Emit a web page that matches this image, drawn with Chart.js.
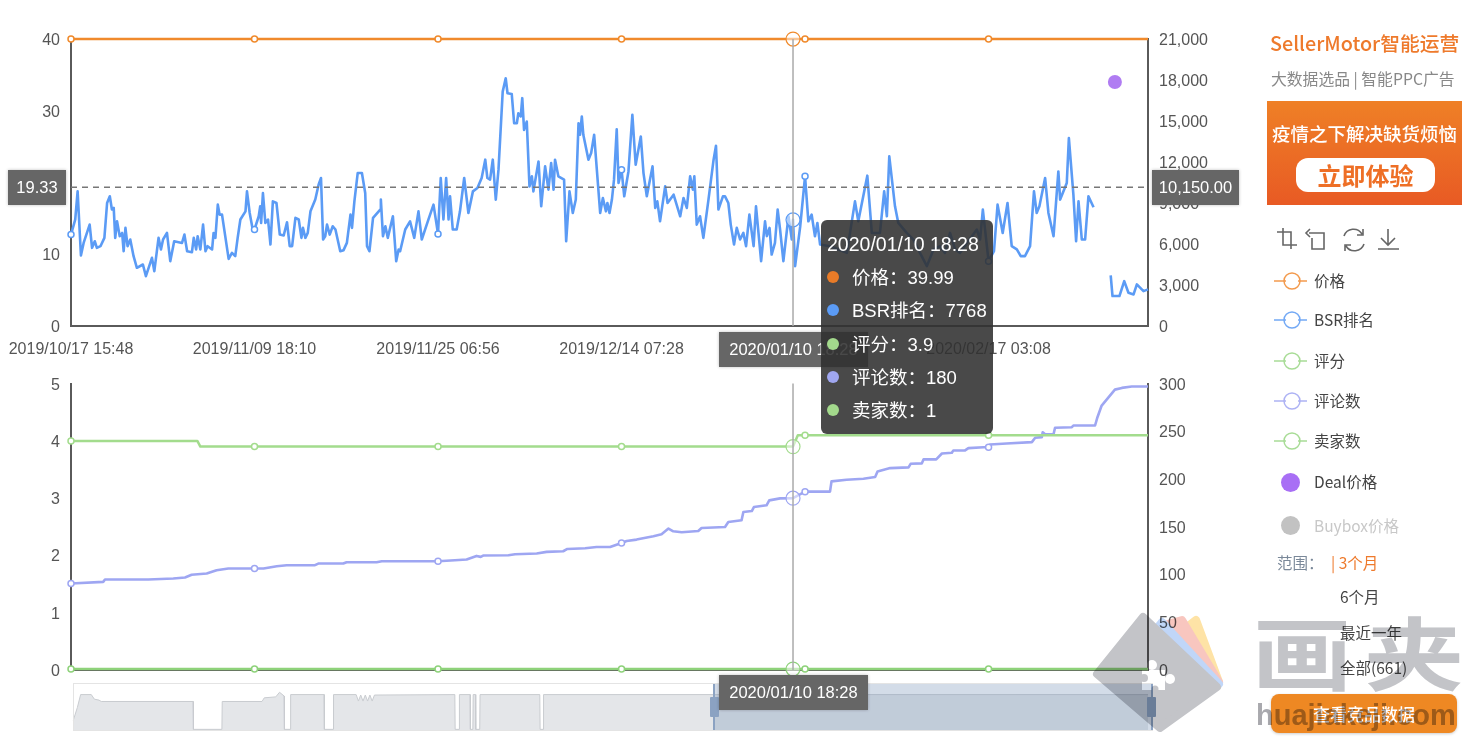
<!DOCTYPE html>
<html lang="zh">
<head>
<meta charset="utf-8">
<title>SellerMotor chart</title>
<script src="https://cdn.jsdelivr.net/npm/chart.js@4"></script>
<style>
  html, body { margin: 0; padding: 0; background: #fff; }
  #page { position: relative; width: 1470px; height: 742px; overflow: hidden; background: #fff; filter: blur(0.45px); font-family: "Liberation Sans", "Noto Sans CJK SC", sans-serif; }
  canvas { position: absolute; left: 0; }
  .abs { position: absolute; white-space: nowrap; }
  .ptr { position: absolute; background: #666; color: #fff; font-size: 16.5px; line-height: 35px; height: 35px; text-align: center; box-shadow: 0 0 3px rgba(0,0,0,.25); }
  #tip { position: absolute; left: 821px; top: 220px; width: 172px; height: 214px; border-radius: 6px; background: rgba(48,48,48,.88); color: #fff; font-size: 18.5px; font-family: "Liberation Sans", "Noto Sans CJK SC", sans-serif; }
  #tip .t { position: absolute; left: 6px; top: 13px; white-space: nowrap; font-size: 19.5px; }
  #tip .r { position: absolute; left: 31px; white-space: nowrap; }
  #tip i { position: absolute; left: 6px; width: 12px; height: 12px; border-radius: 50%; }
  #side, #side div { font-family: "Noto Sans CJK SC", "Liberation Sans", sans-serif; }
  .lg { position: absolute; left: 1314px; font-size: 15.5px; color: #444; line-height: 20px; white-space: nowrap; }
  .rg { position: absolute; font-size: 15.5px; color: #444; line-height: 20px; white-space: nowrap; }
  #mark { position: absolute; left: 0; top: 0; mix-blend-mode: multiply; pointer-events: none; }
</style>
</head>
<body>
<div id="page">
  <canvas id="topChart" width="1470" height="370" style="top:0"></canvas>
  <canvas id="bottomChart" width="1470" height="331" style="top:363px"></canvas>
  <canvas id="miniChart" width="1470" height="55" style="top:680px"></canvas>

  <!-- data zoom selection -->
  <div class="abs" style="left:73px;top:683px;width:1078px;height:46px;border:1px solid #e4e4e4"></div>
  <div class="abs" style="left:714px;top:684px;width:438px;height:46px;background:rgba(130,155,190,.35)"></div>
  <div class="abs" style="left:713px;top:684px;width:2px;height:46px;background:#8ba2c2"></div>
  <div class="abs" style="left:1151px;top:684px;width:2px;height:46px;background:#8ba2c2"></div>
  <div class="abs" style="left:710px;top:697px;width:9px;height:20px;background:#8ba2c2;border-radius:1px"></div>
  <div class="abs" style="left:1147px;top:697px;width:9px;height:20px;background:#8ba2c2;border-radius:1px"></div>

  <!-- axis pointer labels -->
  <div class="ptr" style="left:8px;top:170px;width:58px">19.33</div>
  <div class="ptr" style="left:1152px;top:170px;width:87px">10,150.00</div>
  <div class="ptr" style="left:719px;top:332px;width:149px">2020/01/10 18:28</div>
  <div class="ptr" style="left:719px;top:675px;width:149px">2020/01/10 18:28</div>

  <div id="tip">
    <div class="t">2020/01/10 18:28</div>
    <i style="top:51px;background:#e87b28"></i><div class="r" style="top:43px">价格：39.99</div>
    <i style="top:84px;background:#5b9bf5"></i><div class="r" style="top:76px">BSR排名：7768</div>
    <i style="top:118px;background:#a3d98c"></i><div class="r" style="top:110px">评分：3.9</div>
    <i style="top:151px;background:#a0a7f0"></i><div class="r" style="top:143px">评论数：180</div>
    <i style="top:184px;background:#a3d98c"></i><div class="r" style="top:176px">卖家数：1</div>
  </div>

  <div id="side">
    <div class="abs" style="left:1270px;top:29px;font-size:19.8px;font-weight:500;color:#ee7a2c;line-height:28px">SellerMotor智能运营</div>
    <div class="abs" style="left:1271px;top:67px;font-size:15.8px;color:#888;line-height:24px">大数据选品 | 智能PPC广告</div>
    <div class="abs" style="left:1267px;top:101px;width:195px;height:104px;background:linear-gradient(#ef8026,#e85a24)"></div>
    <div class="abs" style="left:1267px;top:119px;width:195px;text-align:center;font-size:18.5px;color:#fff;font-weight:500;line-height:28px">疫情之下解决缺货烦恼</div>
    <div class="abs" style="left:1296px;top:158px;width:139px;height:34px;border-radius:12px;background:#fff;text-align:center;font-size:24px;font-weight:700;color:#ee6f26;line-height:34px">立即体验</div>

    <svg class="abs" style="left:1274px;top:226px" width="130" height="28" fill="none" stroke="#666" stroke-width="1.6">
      <path d="M3 6h14v17M9 2v17h14M9 6"/>
      <path d="M38 7h-3M36 3l-4 4 4 4M38 7h12v16H38V12"/>
      <path d="M70 10a10 10 0 0 1 18-2M90 18a10 10 0 0 1-18 2M89 3v6h-6M71 25v-6h6"/>
      <path d="M114 3v15M107 12l7 7 7-7M104 23h21"/>
    </svg>
    <svg class="abs" style="left:1270px;top:268px" width="44" height="190" fill="none" stroke-width="1.5">
      <g stroke="#f39a4d"><path d="M4 13h12M28 13h9"/><circle cx="22" cy="13" r="8"/></g>
      <g stroke="#73a9f5"><path d="M4 52h12M28 52h9"/><circle cx="22" cy="52" r="8"/></g>
      <g stroke="#a8dc96"><path d="M4 93h12M28 93h9"/><circle cx="22" cy="93" r="8"/></g>
      <g stroke="#adb2f4"><path d="M4 133h12M28 133h9"/><circle cx="22" cy="133" r="8"/></g>
      <g stroke="#a8dc96"><path d="M4 173h12M28 173h9"/><circle cx="22" cy="173" r="8"/></g>
    </svg>
    <div class="lg" style="top:270px">价格</div>
    <div class="lg" style="top:309px">BSR排名</div>
    <div class="lg" style="top:350px">评分</div>
    <div class="lg" style="top:390px">评论数</div>
    <div class="lg" style="top:430px">卖家数</div>
    <div class="abs" style="left:1281px;top:473px;width:19px;height:19px;border-radius:50%;background:#a86ff5"></div>
    <div class="lg" style="top:471px">Deal价格</div>
    <div class="abs" style="left:1281px;top:516px;width:19px;height:19px;border-radius:50%;background:#c2c2c2"></div>
    <div class="lg" style="top:515px;color:#c8c8c8">Buybox价格</div>
    <div class="rg" style="left:1277px;top:552px;color:#7a8899">范围：</div>
    <div class="rg" style="left:1331px;top:552px;color:#ee7a2c">| 3个月</div>
    <div class="rg" style="left:1340px;top:586px">6个月</div>
    <div class="rg" style="left:1340px;top:622px">最近一年</div>
    <div class="rg" style="left:1340px;top:657px">全部(661)</div>
    <div class="abs" style="left:1271px;top:694px;width:186px;height:39px;border-radius:8px;background:#ee8823;text-align:center;color:#fff;font-size:17px;font-weight:500;line-height:39px;box-shadow:0 1px 3px rgba(0,0,0,.2)">查看竞品数据</div>
  </div>

  <!-- watermark -->
  <svg id="mark" width="1470" height="742">
    <g stroke-linejoin="round" stroke-width="8">
      <path d="M1196 620 1219 682 1170 640Z" fill="#fee3a6" stroke="#fee3a6"/>
      <path d="M1182 620 1219 682 1160 626Z" fill="#f8c6bf" stroke="#f8c6bf"/>
      <path d="M1162 622 1219 684 1154 632Z" fill="#c0d6f8" stroke="#c0d6f8"/>
      <path d="M1143 617 1097 674 1160 728 1217 687Z" fill="#c3c4c8" stroke="#c3c4c8"/>
    </g>
    <g fill="#fff">
      <rect x="1142" y="670" width="23" height="20"/>
      <circle cx="1152" cy="665" r="5"/>
      <circle cx="1170" cy="679" r="5"/>
    </g>
    <circle cx="1144" cy="678" r="4" fill="#c3c4c8"/>
    <circle cx="1155" cy="689" r="3.5" fill="#c3c4c8"/>
    <text transform="translate(1252 684) scale(1 .8)" font-family="Noto Sans CJK SC" font-weight="700" font-size="100" letter-spacing="12" fill="#c3c4c8">画夹</text>
    <text x="1256" y="725" font-family="Liberation Sans" font-weight="700" font-size="29" fill="#a9a9ae">huajiakeji.com</text>
  </svg>
</div>

<script>
// axis ticks
const xTickSlots = [0, 61, 122, 183, 305];
const xTickLabels = ['2019/10/17 15:48', '2019/11/09 18:10', '2019/11/25 06:56', '2019/12/14 07:28', '2020/02/17 03:08'];
const markerSlots = [0, 61, 122, 183, 244, 305];
const hoverSlot = 240;
const averagePrice = 19.33;

// price stays flat at the top of the left axis
const priceSlots = [0, 61, 122, 183, 240, 244, 305, 358];
const priceValues = [39.99, 39.99, 39.99, 39.99, 39.99, 39.99, 39.99, 39.99];

// BSR rank, position along the x axis and value
const bsrSlots = [
  0, 1.4, 2.2, 3.3, 4.2, 5.1, 6.2, 7, 7.9, 8.6, 9.8, 11.1, 12, 12.9, 13.6, 14.2, 14.7, 15.3, 16.2, 17,
  17.5, 18.1, 18.8, 19.7, 20.8, 21.9, 23.9, 24.9, 26.9, 27.7, 29.1, 29.9, 30.6, 31.9, 33, 34.3, 36.9, 37.7, 38.6, 40.2,
  40.8, 41.6, 42.1, 43, 43.9, 44.7, 45.4, 46.9, 47.4, 48, 48.8, 49.4, 50.2, 52.4, 53.5, 54.6, 55.4, 56.3, 58, 58.5,
  59.4, 60.4, 61, 62.4, 62.9, 63.2, 63.8, 64.6, 65.5, 66.3, 67.1, 68.3, 69.4, 70.7, 71.8, 72.7, 73.5, 74.6, 75.7, 76.6,
  77.1, 77.9, 78.7, 79.6, 81.2, 82.3, 83.1, 83.8, 84.5, 85.1, 86, 87, 87.9, 89.5, 90.6, 91.7, 92.9, 93.4, 94.2, 95.3,
  96.7, 97.8, 98.4, 99.2, 100.4, 102.8, 103, 103.7, 104.5, 105.3, 107, 108.1, 108.9, 109.4, 111.1, 112.7, 114.1, 115.5, 116.6, 118.8,
  120.5, 122, 122.9, 123.8, 124.7, 125.5, 126, 126.9, 128.2, 129.3, 130.7, 132.1, 133.6, 135.1, 136.5, 137.7, 138.4, 139.3, 140.2, 141.2,
  142.1, 143.5, 144.5, 145.1, 146.5, 147.3, 148.2, 148.7, 149.5, 150, 150.6, 151.5, 152.4, 153.2, 153.7, 155.4, 156.3, 157.6, 158.7, 159.6,
  160.4, 160.9, 162, 163.9, 164.6, 165.7, 166.8, 167.8, 168.7, 169.2, 169.8, 170.3, 172, 172.9, 173.9, 175.9, 176.8, 177.8, 178.3, 179,
  179.8, 180.5, 181.4, 182, 183, 183.9, 185.3, 186.6, 187.7, 189.4, 190.3, 191.4, 193.3, 194.2, 194.9, 195.8, 197.5, 198.3, 200.3, 202.5,
  203.6, 204.7, 205.8, 206.7, 207.2, 208, 209.1, 210.2, 211.9, 213.6, 214.4, 215.2, 216.7, 217.4, 218.5, 219.3, 220.4, 221.3, 222.4, 223.5,
  224.4, 225.5, 226.9, 227.7, 229.4, 230.7, 231.3, 232.2, 232.9, 234, 234.9, 235.7, 236.8, 238.5, 239.6, 240, 240.7, 242.4, 244, 245.1,
  246.2, 247.3, 248.1, 249, 252.3, 255.1, 257.9, 260.6, 261.7, 264.7, 266.2, 268.9, 270.3, 271.2, 272, 273.9, 275, 277.8, 280, 282.2,
  284.5, 286.7, 288.9, 290.5, 292.2, 293.9, 295.5, 297.8, 301.1, 302.2, 303.1, 305, 306.8, 308, 309.7, 311.3, 312.7, 314.4, 315.7, 317.1,
  318.8, 320.1, 321, 321.9, 323.8, 324.9, 326.6, 328.2, 328.8, 331, 331.7, 333.2, 334.1, 334.9, 336, 337.1, 338.2, 339.9, 342.7, 345.6,
  346.2, 348.5, 350.1, 351.5, 353.2, 354.3, 356.5, 358
];
const bsrValues = [
  6690, 7790, 9850, 5160, 6080, 6690, 7420, 5720, 6200, 5720, 5840, 6450, 9000, 9490, 8520, 8640, 6450, 7660, 6570, 6810,
  5470, 7180, 5840, 6330, 5110, 4260, 4500, 3650, 4990, 4010, 6450, 5600, 6330, 6810, 4740, 6200, 6080, 6690, 5470, 5400,
  6450, 5600, 6570, 5600, 7420, 5470, 5840, 5600, 6810, 6450, 8880, 8150, 8150, 4910, 5350, 5110, 6450, 7790, 8390, 9850,
  8270, 7060, 7060, 8030, 8760, 7540, 9730, 7540, 7790, 5960, 9120, 9000, 6690, 6620, 7590, 5840, 5840, 7910, 7790, 6450,
  7180, 6450, 6810, 8390, 9250, 10340, 10830, 6330, 6570, 7420, 6690, 7300, 7060, 5470, 5550, 6080, 8150, 7180, 9120, 11190,
  11190, 9730, 5840, 5470, 7910, 8520, 9250, 6570, 7300, 6450, 8030, 4740, 5600, 5470, 7060, 7660, 6450, 8390, 6330, 7790,
  8880, 6740, 10830, 7790, 10830, 7790, 9490, 7060, 7060, 8390, 10830, 8270, 9850, 10100, 10830, 12170, 10830, 10710, 12170, 9250,
  11440, 17150, 18130, 17030, 16980, 14840, 14840, 15570, 15330, 16670, 14350, 14960, 10220, 10950, 9850, 12040, 8760, 11680, 9980, 11920,
  9980, 12170, 10950, 10710, 6200, 9850, 8270, 9250, 14840, 13990, 15330, 13990, 12170, 12650, 13990, 8270, 9370, 8390, 9000, 8270,
  9250, 10710, 14400, 10460, 11440, 9490, 11310, 15450, 11800, 13870, 11190, 9490, 11680, 8640, 9120, 7660, 10220, 9000, 9610, 8030,
  9370, 8640, 10950, 9980, 10950, 7420, 8030, 6450, 9250, 12170, 13190, 8520, 9490, 9490, 9000, 7420, 5960, 7180, 6330, 6810,
  5840, 8150, 5840, 8760, 4740, 7660, 6570, 7180, 5230, 6080, 8520, 7060, 4740, 8030, 6330, 7768, 4380, 7300, 10950, 7660,
  8150, 6570, 7540, 5960, 5840, 5600, 5350, 9120, 7660, 11000, 6810, 6810, 9850, 8030, 12410, 8760, 7540, 6810, 6330, 5350,
  4380, 5600, 5840, 5350, 6810, 5600, 5350, 6080, 7060, 6330, 8520, 4740, 5470, 8880, 6810, 9000, 5840, 5600, 5110, 5110,
  5840, 9850, 8270, 8760, 10830, 8270, 6570, 11310, 9250, 10460, 13750, 9610, 6200, 9120, 6330, 6330, 9490, 8690, null, 3700,
  2190, 2190, 3280, 2430, 2310, 3040, 2550, 2680
];

// deal price is a single point
const dealSlots = [347];
const dealValues = [34];

// rating, left axis of the lower chart
const ratingSlots = [0, 42, 43, 61, 122, 183, 240, 241.6, 244, 305, 358];
const ratingValues = [4, 4, 3.9, 3.9, 3.9, 3.9, 3.9, 4.1, 4.1, 4.1, 4.1];

// review count, right axis of the lower chart
const reviewSlots = [
  0, 10.7, 11.3, 25.7, 34, 37.9, 40.1, 45.1, 48.4, 52.3, 61, 64, 68.4, 71.7, 81.1, 82.2, 90.5, 91.6, 101.6, 103.3,
  122, 127.6, 131.5, 134.8, 136.2, 137, 145.4, 147.6, 154.8, 158.1, 163.6, 165, 170.9, 174.7, 179.2, 183, 184.7, 188, 193.6, 196.3,
  198.6, 200.2, 203, 208.5, 209.6, 217.4, 218.5, 222.9, 223.5, 226.3, 227, 231.2, 232.1, 235.7, 240, 244, 252.3, 252.8, 257.8, 263.4,
  267.3, 268.1, 272.3, 278.4, 279.1, 282.8, 283.4, 287.6, 289.5, 292.8, 293.3, 297.2, 298.3, 303.3, 305, 305.5, 311, 319.4, 320.5, 322.7,
  323, 323.8, 326.6, 327.1, 332.7, 333.2, 340.4, 341.2, 342.6, 343.7, 347, 349.3, 352.6, 358
];
const reviewValues = [
  90.6, 92.3, 94.8, 94.8, 95.8, 96.9, 99.7, 101, 104.5, 106.3, 106.3, 106.3, 108.7, 109.8, 109.8, 111.5, 111.5, 112.9, 112.9, 113.9,
  113.9, 115, 115.7, 119.5, 118.5, 119.9, 120.2, 121.3, 122, 123.7, 124.4, 126.8, 127.5, 128.9, 128.9, 133.1, 135.2, 136.6, 140.1, 142.2,
  148.1, 145.3, 144.3, 145.6, 148.8, 149.8, 155, 156.8, 165.5, 166.5, 170.7, 172.5, 177.7, 179.8, 180, 186.8, 186.8, 197.6, 199.3, 200.4,
  202.1, 208, 211.5, 212.2, 216, 216.4, 220.6, 220.6, 226.8, 227.5, 230, 230, 232.4, 233.4, 233.4, 236.2, 237.3, 238.7, 243.2, 243.9,
  249.1, 247, 247, 253.7, 254.3, 256.1, 256.1, 264.8, 277, 281.2, 293.7, 295.5, 296.9, 296.9
];

// seller count, drawn against the right axis
const sellerSlots = [0, 61, 122, 183, 240, 244, 305, 358];
const sellerValues = [1, 1, 1, 1, 1, 1, 1, 1];

// overview strip under the charts
const overviewSlots = [
  2, 4.5, 6.5, 13, 14.9, 17.7, 19.1, 75.2, 75.4, 92.8, 93, 117.3, 118.7, 125.7, 128, 130.8, 131, 134.6, 134.8, 155.2,
  155.4, 160.8, 161, 174.8, 176.2, 177.6, 179, 180.4, 181.8, 183.2, 184.6, 186, 235.1, 235.3, 237.7, 237.9, 244.4, 244.6, 246.1, 246.3,
  247.7, 247.9, 250.3, 250.5, 287, 287.2, 289.1, 289.3, 658.6
];
const overviewValues = [
  21, 49, 77, 77, 67, 65, 62, 62, 1.4, 1.4, 62, 62, 70, 72, 82, 74, 1.4, 1.4, 77, 77,
  1.4, 1.4, 77, 77, 63, 76, 63, 76, 63, 76, 63, 76, 77, 1.4, 1.4, 77, 77, 1.4, 1.4, 77,
  77, 1.4, 1.4, 77, 77, 1.4, 1.4, 77, 77
];

const AXIS = '#5a5a5a';
const TICK = '#555';
const FONT = { family: '"Liberation Sans", sans-serif', size: 16 };

function points(slots, values) {
  return slots.map((x, i) => ({ x: x, y: values[i] }));
}

function ringDataset(label, slots, values, color, axis, width) {
  return {
    label: label,
    data: points(slots, values),
    yAxisID: axis,
    borderColor: color,
    borderWidth: width,
    borderJoinStyle: 'round',
    tension: 0,
    spanGaps: false,
    clip: false,
    backgroundColor: '#fff',
    pointBackgroundColor: ctx => ctx.raw && ctx.raw.x === hoverSlot ? 'rgba(255,255,255,.5)' : '#fff',
    pointBorderColor: color,
    pointBorderWidth: ctx => ctx.raw && ctx.raw.x === hoverSlot ? 1.2 : 1.5,
    pointRadius: ctx => {
      if (!ctx.raw) return 0;
      if (ctx.raw.x === hoverSlot) return 7;
      return markerSlots.includes(ctx.raw.x) ? 3 : 0;
    },
    order: 1
  };
}

function yAxis(position, max, step, format) {
  return {
    position: position,
    min: 0,
    max: max,
    afterFit: s => { s.width = position === 'left' ? 71 : 322; },
    grid: { drawOnChartArea: false, drawTicks: false },
    border: { color: AXIS, width: 2 },
    ticks: { color: TICK, font: FONT, padding: 11, labelOffset: 1.5, stepSize: step, callback: format || (v => v) }
  };
}

function xAxis(showLabels) {
  return {
    type: 'linear',
    min: 0,
    max: 358,
    afterBuildTicks: s => { s.ticks = xTickSlots.map(v => ({ value: v })); },
    afterFit: s => { s.height = showLabels ? 30 : 0; },
    grid: { drawOnChartArea: false, drawTicks: showLabels, tickLength: 12, tickColor: 'transparent' },
    border: { color: AXIS, width: 2 },
    ticks: {
      display: showLabels,
      color: TICK,
      font: FONT,
      padding: 2,
      autoSkip: false,
      maxRotation: 0,
      callback: v => xTickLabels[xTickSlots.indexOf(v)] || ''
    }
  };
}

// the axis pointer: vertical line at the hovered slot, dashed level on the top chart
const pointerPlugin = {
  id: 'pointer',
  afterDatasetsDraw(chart) {
    const { ctx, chartArea, scales } = chart;
    const x = scales.x.getPixelForValue(hoverSlot);
    ctx.save();
    ctx.strokeStyle = '#aaa';
    ctx.lineWidth = 1.5;
    ctx.beginPath();
    ctx.moveTo(x, chartArea.top);
    ctx.lineTo(x, chartArea.bottom);
    ctx.stroke();
    if (chart.canvas.id === 'topChart') {
      const y = scales.yLeft.getPixelForValue(averagePrice);
      ctx.strokeStyle = '#777';
      ctx.setLineDash([6, 5]);
      ctx.beginPath();
      ctx.moveTo(chartArea.left, y);
      ctx.lineTo(chartArea.right, y);
      ctx.stroke();
    }
    ctx.restore();
  }
};

const baseOptions = {
  responsive: false,
  animation: false,
  events: [],
  devicePixelRatio: 1,
  plugins: { legend: { display: false }, tooltip: { enabled: false } }
};

new Chart(document.getElementById('topChart'), {
  type: 'line',
  plugins: [pointerPlugin],
  data: {
    datasets: [
      ringDataset('价格', priceSlots, priceValues, '#f08a2c', 'yLeft', 2.5),
      ringDataset('BSR排名', bsrSlots, bsrValues, '#5b9bf5', 'yRight', 2.6),
      {
        label: 'Deal价格',
        data: points(dealSlots, dealValues),
        yAxisID: 'yLeft',
        showLine: false,
        pointRadius: 7,
        pointBackgroundColor: '#b07cf2',
        pointBorderWidth: 0
      }
    ]
  },
  options: {
    ...baseOptions,
    layout: { padding: { top: 39, bottom: 14 } },
    scales: {
      x: xAxis(true),
      yLeft: yAxis('left', 40, 10),
      yRight: yAxis('right', 21000, 3000, v => v.toLocaleString('en-US'))
    }
  }
});

new Chart(document.getElementById('bottomChart'), {
  type: 'line',
  plugins: [pointerPlugin],
  data: {
    datasets: [
      ringDataset('评分', ratingSlots, ratingValues, '#a3dc8d', 'yLeft', 2.5),
      ringDataset('评论数', reviewSlots, reviewValues, '#9ea6f2', 'yRight', 2.6),
      ringDataset('卖家数', sellerSlots, sellerValues, '#8ed27a', 'yRight', 2.5)
    ]
  },
  options: {
    ...baseOptions,
    layout: { padding: { top: 20, bottom: 24 } },
    scales: {
      x: xAxis(false),
      yLeft: yAxis('left', 5, 1),
      yRight: yAxis('right', 300, 50)
    }
  }
});

new Chart(document.getElementById('miniChart'), {
  type: 'line',
  data: {
    datasets: [{
      data: points(overviewSlots, overviewValues),
      borderColor: '#c9ccd0',
      borderWidth: 1,
      backgroundColor: '#e4e6e9',
      fill: 'start',
      pointRadius: 0,
      tension: 0
    }]
  },
  options: {
    ...baseOptions,
    layout: { padding: { left: 70, right: 318, top: 4, bottom: 5 } },
    scales: {
      x: { type: 'linear', min: 0, max: 661, display: false },
      y: { min: 0, max: 100, display: false }
    }
  }
});
</script>
</body>
</html>
